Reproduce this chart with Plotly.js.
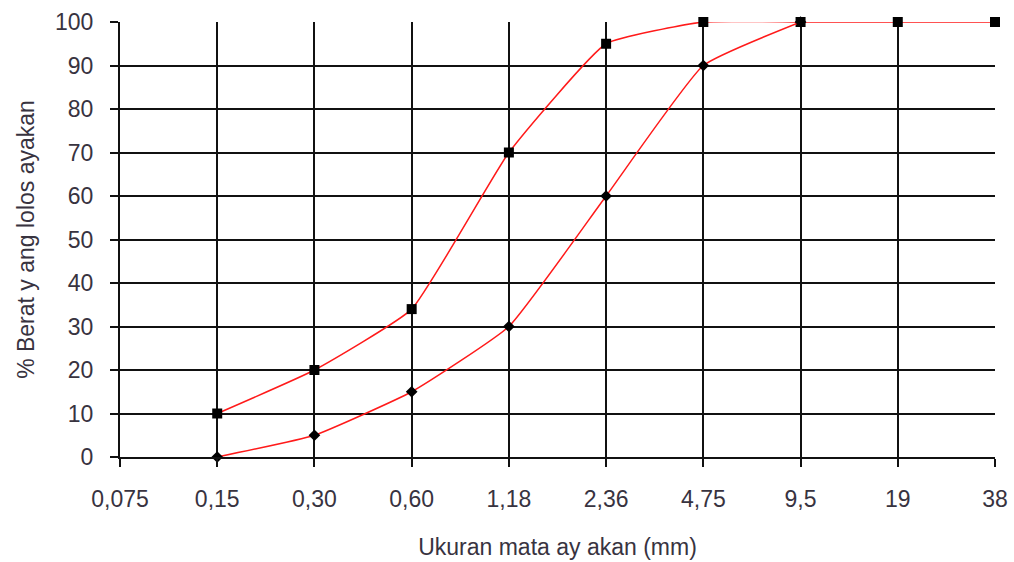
<!DOCTYPE html>
<html>
<head>
<meta charset="utf-8">
<script src="https://cdn.plot.ly/plotly-3.0.1.min.js"></script>
<style>html,body{margin:0;padding:0;background:#fff;}#chart{width:1014px;height:562px;}</style>
</head>
<body>
<div id="chart"></div>
<script>
const categories = ["0,075", "0,15", "0,30", "0,60", "1,18", "2,36", "4,75", "9,5", "19", "38"];
const upperIdx = [1, 2, 3, 4, 5, 6, 7, 8, 9];
const upperValues = [10, 20, 34, 70, 95, 100, 100, 100, 100];
const lowerIdx = [1, 2, 3, 4, 5, 6, 7];
const lowerValues = [0, 5, 15, 30, 60, 90, 100];
const yTicks = [0, 10, 20, 30, 40, 50, 60, 70, 80, 90, 100];

const font = {family: "Liberation Sans, Arial, sans-serif", size: 23, color: "#38333f"};
const traces = [
  {x: upperIdx, y: upperValues, mode: "lines+markers", type: "scatter",
   line: {color: "#ff1a1a", width: 1.5, shape: "spline", smoothing: 0.4},
   marker: {symbol: "square", size: 10, color: "#000"}, cliponaxis: false},
  {x: lowerIdx, y: lowerValues, mode: "lines+markers", type: "scatter",
   line: {color: "#ff1a1a", width: 1.5, shape: "spline", smoothing: 0.4},
   marker: {symbol: "diamond", size: 9, color: "#000"}, cliponaxis: false}
];
const layout = {
  width: 1014, height: 562,
  margin: {l: 120, r: 19, t: 22, b: 105},
  paper_bgcolor: "#fff", plot_bgcolor: "#fff",
  showlegend: false,
  font: font,
  xaxis: {
    range: [0, 9], tickmode: "array",
    tickvals: categories.map((c, i) => i), ticktext: categories,
    showgrid: true, gridcolor: "#111", gridwidth: 2,
    showline: true, linecolor: "#111", linewidth: 2,
    ticks: "outside", ticklen: 8, tickcolor: "#111", tickwidth: 2,
    ticklabelstandoff: 12,
    zeroline: false, tickfont: font,
    title: {text: "Ukuran mata ay akan (mm)", font: font, standoff: 28}
  },
  yaxis: {
    range: [0, 100], tickmode: "array", tickvals: yTicks,
    showgrid: true, gridcolor: "#111", gridwidth: 2,
    showline: true, linecolor: "#111", linewidth: 2,
    ticks: "outside", ticklen: 8, tickcolor: "#111", tickwidth: 2,
    ticklabelstandoff: 12,
    zeroline: false, tickfont: font,
    title: {text: "% Berat y ang lolos ayakan", font: font, standoff: 14}
  }
};
Plotly.newPlot("chart", traces, layout, {displayModeBar: false, staticPlot: true});
</script>
</body>
</html>
